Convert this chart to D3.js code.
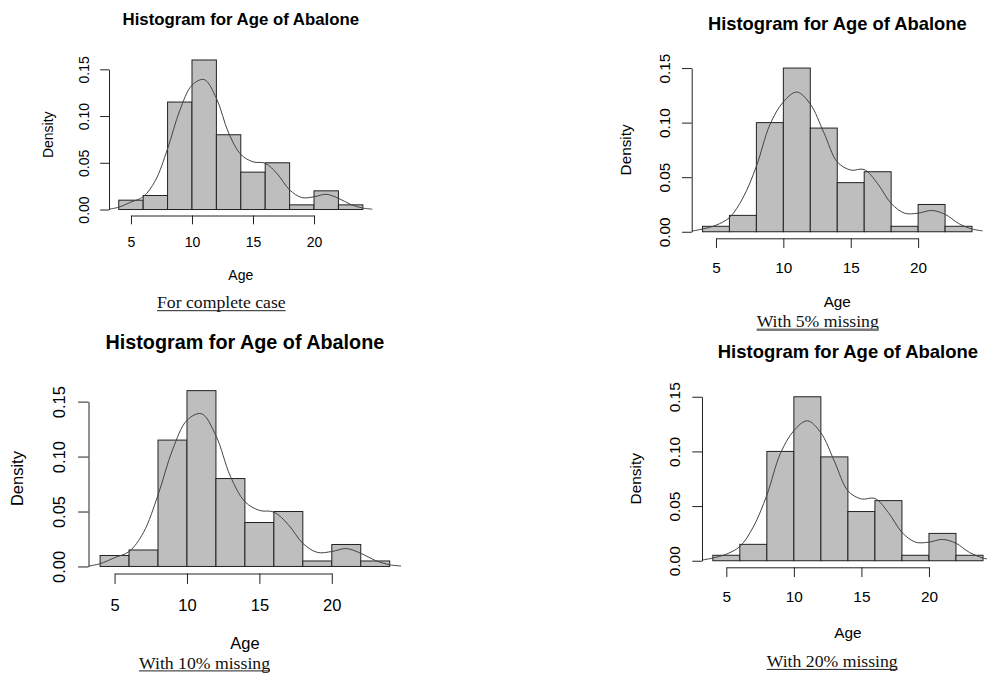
<!DOCTYPE html>
<html lang="en">
<head>
  <meta charset="UTF-8">
  <title>Histogram for Age of Abalone - four cases</title>
  <script src="https://d3js.org/d3.v7.min.js"></script>
  <style>
    body {
      margin: 0;
      background: #fff;
      font-family: "Liberation Sans", Arial, sans-serif;
    }
    .bar {
      fill: #bebebe;
      stroke: #222;
      stroke-width: 1;
    }
    .kde {
      fill: none;
      stroke: #444;
      stroke-width: 1;
    }
    .axis {
      color: #222;
    }
    .axis text {
      fill: #000;
      font-family: "Liberation Sans", Arial, sans-serif;
    }
    .title {
      font-weight: bold;
      text-anchor: middle;
      fill: #000;
    }
    .axis-label {
      text-anchor: middle;
      fill: #000;
    }
    .caption {
      font-family: "Liberation Serif", "Times New Roman", serif;
      font-size: 17.7px;
      text-anchor: middle;
      fill: #111;
    }
  </style>
</head>
<body>
  <div id="chart"></div>
  <script>

    // histogram breaks and axis ticks
    const breaks = [4, 6, 8, 10, 12, 14, 16, 18, 20, 22, 24];
    const ageTicks = [5, 10, 15, 20];
    const densityTicks = [0, 0.05, 0.10, 0.15];

    const chartTitle = "Histogram for Age of Abalone";
    const captions = ["For complete case", "With 5% missing", "With 10% missing", "With 20% missing"];

    // bar densities, one per bin
    const barsComplete = [0.010, 0.015, 0.115, 0.160, 0.080, 0.040, 0.050, 0.005, 0.020, 0.005];
    const bars5 = [0.005, 0.015, 0.100, 0.150, 0.095, 0.045, 0.055, 0.005, 0.025, 0.005];
    const bars10 = [0.010, 0.015, 0.115, 0.160, 0.080, 0.040, 0.050, 0.005, 0.020, 0.005];
    const bars20 = [0.005, 0.015, 0.100, 0.150, 0.095, 0.045, 0.055, 0.005, 0.025, 0.005];

    // density curve
    const kdeAges = [3.2, 4, 5, 6, 7, 8, 9, 10, 11, 12, 13, 14, 15, 16, 17, 18, 19, 20, 21, 22, 23, 24, 24.8];
    const kdeComplete = [0.0004, 0.0025, 0.008, 0.0136, 0.031, 0.065, 0.106, 0.133, 0.139, 0.119, 0.082, 0.059,
                         0.051, 0.0495, 0.038, 0.021, 0.0128, 0.0136, 0.0163, 0.012, 0.0055, 0.0015, 0.0004];
    const kde5 = [0.0006, 0.0025, 0.006, 0.013, 0.031, 0.060, 0.098, 0.119, 0.128, 0.117, 0.091, 0.064,
                  0.0565, 0.057, 0.044, 0.026, 0.017, 0.017, 0.0195, 0.016, 0.0076, 0.0025, 0.0008];
    const kde10 = [0.0004, 0.0025, 0.008, 0.0136, 0.031, 0.065, 0.106, 0.133, 0.139, 0.119, 0.082, 0.059,
                   0.051, 0.0495, 0.038, 0.021, 0.0128, 0.0136, 0.0163, 0.012, 0.0055, 0.0015, 0.0004];
    const kde20 = [0.0006, 0.0025, 0.006, 0.013, 0.031, 0.060, 0.098, 0.119, 0.128, 0.117, 0.091, 0.064,
                   0.0565, 0.057, 0.044, 0.026, 0.017, 0.017, 0.0195, 0.016, 0.0076, 0.0025, 0.0008];

    // where each panel sits on the page
    const panels = [
      { bars: barsComplete, kde: kdeComplete, caption: captions[0], ageShift: 0,
        left: 109, right: 372.6, top: 54, bottom: 215.5, fs: 14, capX: 221.3, capY: 308.3, thick: false },
      { bars: bars5, kde: kde5, caption: captions[1], ageShift: -1.5,
        left: 691.7, right: 982.8, top: 61.5, bottom: 238.3, fs: 15.3, capX: 817.7, capY: 326.5, thick: true },
      { bars: bars10, kde: kde10, caption: captions[2], ageShift: -1,
        left: 88.5, right: 401.3, top: 383.6, bottom: 573.5, fs: 16.5, capX: 204.5, capY: 668.5, thick: false },
      { bars: bars20, kde: kde20, caption: captions[3], ageShift: 0,
        left: 702, right: 993.8, top: 390.2, bottom: 567.3, fs: 15.4, capX: 832.2, capY: 667, thick: false }
    ];

    const svg = d3.select("#chart").append("svg")
      .attr("width", 987)
      .attr("height", 673);

    svg.append("rect")
      .attr("width", 987)
      .attr("height", 673)
      .attr("fill", "#fff");

    panels.forEach((p, i) => drawPanel(p, i));

    function drawPanel(p, i) {
      const fs = p.fs;
      const lo = breaks[0], hi = breaks[breaks.length - 1];
      const pad = 0.04 * (hi - lo);
      const ymax = d3.max(p.bars);

      const x = d3.scaleLinear()
        .domain([lo - pad, hi + pad])
        .range([p.left, p.right]);

      const y = d3.scaleLinear()
        .domain([-0.04 * ymax, 1.04 * ymax])
        .range([p.bottom, p.top]);

      const g = svg.append("g").attr("class", "panel");

      g.append("clipPath")
        .attr("id", "clip-" + i)
        .append("rect")
        .attr("x", p.left)
        .attr("y", p.top)
        .attr("width", p.right - p.left)
        .attr("height", p.bottom - p.top);

      const bins = p.bars.map((d, j) => ({ x0: breaks[j], x1: breaks[j + 1], d: d }));

      g.selectAll(".bar")
        .data(bins)
        .enter()
        .append("rect")
        .attr("class", "bar")
        .attr("x", d => x(d.x0))
        .attr("y", d => y(d.d))
        .attr("width", d => x(d.x1) - x(d.x0))
        .attr("height", d => y(0) - y(d.d));

      const line = d3.line()
        .x(d => x(d[0]))
        .y(d => y(d[1]))
        .curve(d3.curveCatmullRom);

      g.append("path")
        .datum(kdeAges.map((a, j) => [a, p.kde[j]]))
        .attr("class", "kde")
        .attr("clip-path", `url(#clip-${i})`)
        .attr("d", line);

      const tick = 0.63 * fs;

      // x axis only runs from first to last tick, like base R
      const xa = x.copy()
        .domain([ageTicks[0], ageTicks[ageTicks.length - 1]])
        .range([x(ageTicks[0]), x(ageTicks[ageTicks.length - 1])]);

      g.append("g")
        .attr("class", "axis")
        .attr("transform", `translate(0,${p.bottom})`)
        .call(d3.axisBottom(xa).tickValues(ageTicks).tickSize(tick).tickSizeOuter(0)
          .tickPadding(0.92 * fs).tickFormat(d3.format("d")))
        .call(s => s.selectAll("text").style("font-size", fs + "px"));

      const ya = y.copy()
        .domain([densityTicks[0], densityTicks[densityTicks.length - 1]])
        .range([y(densityTicks[0]), y(densityTicks[densityTicks.length - 1])]);

      g.append("g")
        .attr("class", "axis")
        .attr("transform", `translate(${p.left},0)`)
        .call(d3.axisLeft(ya).tickValues(densityTicks).tickSize(tick).tickSizeOuter(0)
          .tickFormat(d3.format(".2f")))
        .call(s => s.selectAll("text")
          .style("font-size", fs + "px")
          .attr("x", null)
          .attr("dy", null)
          .attr("text-anchor", "middle")
          .attr("transform", `translate(${-1.42 * fs},0) rotate(-90)`));

      g.append("text")
        .attr("class", "title")
        .attr("x", (p.left + p.right) / 2)
        .attr("y", p.top - 2.07 * fs)
        .style("font-size", (1.2 * fs) + "px")
        .text(chartTitle);

      g.append("text")
        .attr("class", "axis-label")
        .attr("transform", `translate(${p.left - 3.97 * fs},${(p.top + p.bottom) / 2}) rotate(-90)`)
        .style("font-size", fs + "px")
        .text("Density");

      g.append("text")
        .attr("class", "axis-label")
        .attr("x", (p.left + p.right) / 2)
        .attr("y", p.bottom + 4.62 * fs + p.ageShift)
        .style("font-size", fs + "px")
        .text("Age");

      const cap = g.append("text")
        .attr("class", "caption")
        .attr("x", p.capX)
        .attr("y", p.capY)
        .text(p.caption);

      const w = cap.node().getComputedTextLength();
      g.append("line")
        .attr("x1", p.capX - w / 2)
        .attr("x2", p.capX + w / 2)
        .attr("y1", p.capY + (p.thick ? 3.3 : 2.4))
        .attr("y2", p.capY + (p.thick ? 3.3 : 2.4))
        .attr("stroke", p.thick ? "#7a7a7a" : "#222")
        .attr("stroke-width", p.thick ? 2.5 : 1);
    }

  </script>
</body>
</html>
